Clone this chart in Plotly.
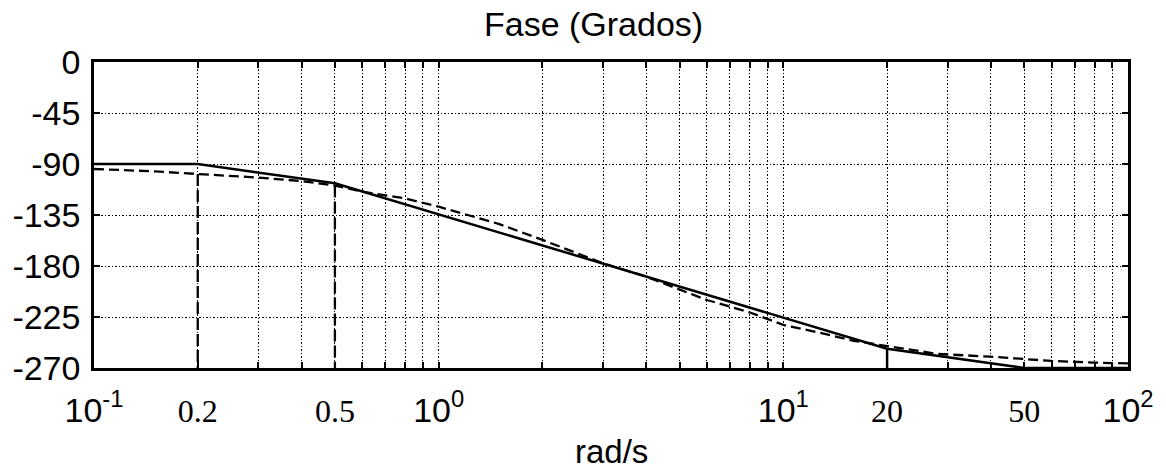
import plotly.graph_objects as go

# ---- data ----
# asymptotic (solid) phase approximation: breakpoints
asym_w = [0.1, 0.2, 0.5, 20, 50, 100]
asym_phase = [-90, -90, -107, -253, -270, -270]

# exact (dashed) phase curve
exact_w = [0.1, 0.15, 0.2, 0.3, 0.4, 0.5, 0.6, 0.7, 0.8, 1.0, 1.5, 2, 3, 4, 5, 6, 7, 8,
           10, 13, 16, 20, 28, 40, 50, 60, 80, 100]
exact_phase = [-94.4, -96.5, -98.8, -102, -105, -109, -114.4, -117.4, -120.4, -127.7, -143,
               -157, -177.6, -189.4, -201, -210, -215.8, -221, -232, -239.4, -246, -250.6,
               -257.6, -260, -262.4, -263.8, -265.2, -266]

# vertical markers at the break frequencies
dashed_marker_w = [0.2, 0.5]
dashed_marker_top = [-98.8, -109]
solid_marker_w = [20]
solid_marker_top = [-253]
phase_floor = -270

# axis ticks
y_ticks = [0, -45, -90, -135, -180, -225, -270]
x_grid = [m * 10 ** e for e in (-1, 0, 1) for m in range(1, 10)] + [100]
x_labels = {0.1: "10<sup>-1</sup>", 0.2: "0.2", 0.5: "0.5", 1: "10<sup>0</sup>",
            10: "10<sup>1</sup>", 20: "20", 50: "50", 100: "10<sup>2</sup>"}
serif_labels = [0.2, 0.5, 20, 50]

title_text = "Fase (Grados)"
xlabel_text = "rad/s"

# ---- figure ----
SANS = "Liberation Sans, Arial, sans-serif"
SERIF = "Liberation Serif, Times New Roman, serif"

fig = go.Figure()
fig.add_trace(go.Scatter(x=asym_w, y=asym_phase, mode="lines",
                         line=dict(color="black", width=2.5)))
fig.add_trace(go.Scatter(x=exact_w, y=exact_phase, mode="lines",
                         line=dict(color="black", width=2.3, dash="10px,5px")))
for w, top in zip(dashed_marker_w, dashed_marker_top):
    fig.add_trace(go.Scatter(x=[w, w], y=[top, phase_floor], mode="lines",
                             line=dict(color="black", width=2.3, dash="12px,4px")))
for w, top in zip(solid_marker_w, solid_marker_top):
    fig.add_trace(go.Scatter(x=[w, w], y=[top, phase_floor], mode="lines",
                             line=dict(color="black", width=2.5)))


def fmt(v):
    for k, lab in x_labels.items():
        if abs(v - k) < 1e-9 * max(1, k):
            if k in serif_labels:
                return f'<span style="font-family:{SERIF};font-size:32px">{lab}</span>'
            return lab
    return ""


ticktext = [fmt(v) for v in x_grid]

fig.update_layout(
    width=1166, height=471,
    margin=dict(l=89, r=36, t=62, b=103),
    paper_bgcolor="white", plot_bgcolor="white",
    showlegend=False,
    font=dict(family=SANS, size=34, color="black"),
    xaxis=dict(type="log", range=[-1, 2], tickvals=x_grid, ticktext=ticktext,
               showgrid=True, gridcolor="black", gridwidth=1.3, griddash="1.5px,2px",
               ticks="inside", ticklen=6, tickwidth=1.5, tickcolor="black",
               showline=True, linecolor="black", linewidth=2.5, mirror="ticks",
               zeroline=False, tickangle=0, ticklabelstandoff=10),
    yaxis=dict(range=[-270, 0], tickvals=y_ticks,
               ticktext=[str(v) for v in y_ticks],
               showgrid=True, gridcolor="black", gridwidth=1.3, griddash="1.5px,2px",
               ticks="inside", ticklen=6, tickwidth=1.5, tickcolor="black",
               showline=True, linecolor="black", linewidth=2.5, mirror="ticks",
               zeroline=False, ticklabelstandoff=4),
    annotations=[
        dict(text=title_text, xref="paper", yref="paper", x=(592 - 89) / (1130 - 89),
             y=1, yshift=38, xanchor="center", yanchor="middle", showarrow=False,
             font=dict(family=SANS, size=34)),
        dict(text=xlabel_text, xref="paper", yref="paper", x=0.5, y=0, yshift=-104,
             xanchor="center", yanchor="bottom", showarrow=False,
             font=dict(family=SANS, size=33)),
    ],
)

fig.write_html("out.html")
